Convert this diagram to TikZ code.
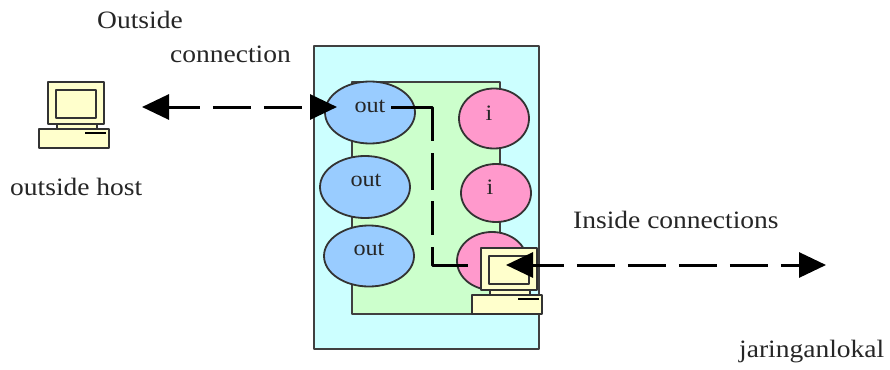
\documentclass[tikz,border=0pt]{standalone}
\usepackage{fontspec}
\setmainfont[FakeStretch=1.1]{Liberation Serif}
\usetikzlibrary{arrows.meta,shapes.geometric}
\definecolor{wallcyan}{HTML}{CCFFFF}
\definecolor{zonegreen}{HTML}{CCFFCC}
\definecolor{outblue}{HTML}{99CCFF}
\definecolor{inpink}{HTML}{FF99CC}
\definecolor{pcyellow}{HTML}{FFFFCC}
\tikzset{
  wall/.style={draw=black!75,line width=1.8pt,fill=#1,inner sep=0pt},
  port/.style={ellipse,draw=black!80,line width=1.8pt,fill=#1,inner sep=0pt},
  pcpart/.style={draw=black!80,line width=1.4pt,fill=pcyellow},
  caption/.style={font=\fontsize{25}{29}\selectfont,text=black!85,inner sep=0pt,anchor=west},
  portlabel/.style={font=\fontsize{22}{26}\selectfont,text=black!85,inner sep=0pt},
  link/.style={line width=3pt,draw=black,dash pattern=on 38pt off 13pt,dash phase=6.5pt},
  pics/computer/.style={code={
    \draw[pcpart] (9,42) rectangle (49,48);
    \draw[pcpart] (-9,47) rectangle (61,66);
    \draw[pcpart] (0,0) rectangle (56,42);
    \draw[pcpart] (8,8) rectangle (48,36);
    \draw[line width=2pt] (37,51) -- (58,51);
  }}
}
\begin{document}
\begin{tikzpicture}[line join=round,x=1pt,y=-1pt,>={Triangle[length=27pt,width=25pt]}]
\useasboundingbox (0,0) rectangle (890,369);
\fill[white] (0,0) rectangle (890,369);
\node[wall=wallcyan,minimum width=225,minimum height=303] (firewall) at (426.5,197.5) {};
\node[wall=zonegreen,minimum width=148,minimum height=232] (zone) at (426,198) {};
\foreach \n/\x/\y/\l/\lx/\ly/\c/\w/\h in {out1/370/112.5/out/370/106.5/outblue/90/62,
  out2/365/187/out/366/180/outblue/90/62,
  out3/369/256/out/369/249.5/outblue/90/61,
  in1/494/118.5/i/489/113/inpink/70/60,
  in2/496/193/i/490/187.5/inpink/70/58,
  in3/492/261/i/488/258/inpink/70/58}{
  \node[port=\c,minimum width=\w,minimum height=\h] (\n) at (\x,\y) {};
  \node[portlabel] (\n label) at (\lx,\ly) {\l};
}
\pic at (48,82) {computer};
\pic at (481,248) {computer};
\coordinate (hosttip) at (142,107);
\coordinate (outtip) at (337,107);
\coordinate (outstart) at (391,107);
\coordinate (bendtop) at (432,107);
\coordinate (bendbot) at (432,265);
\coordinate (instop) at (468,265);
\coordinate (lantip) at (506,265);
\coordinate (farend) at (826,265);
\draw[link,<->] (hosttip) -- (outtip);
\draw[link,dash pattern=on 75pt off 12pt on 37pt off 11pt on 34pt off 12pt on 200pt,dash phase=0pt] (outstart) -- (bendtop) -- (bendbot) -- (instop);
\draw[link,<->] (lantip) -- (farend);
\node[caption] (outlabel) at (97,20) {Outside};
\node[caption] (connlabel) at (170,54) {connection};
\node[caption] (hostlabel) at (10,187) {outside host};
\node[caption] (insidelabel) at (573,220) {Inside connections};
\node[caption] (lanlabel) at (739,352) {jaringanlokal};
\end{tikzpicture}
\end{document}
